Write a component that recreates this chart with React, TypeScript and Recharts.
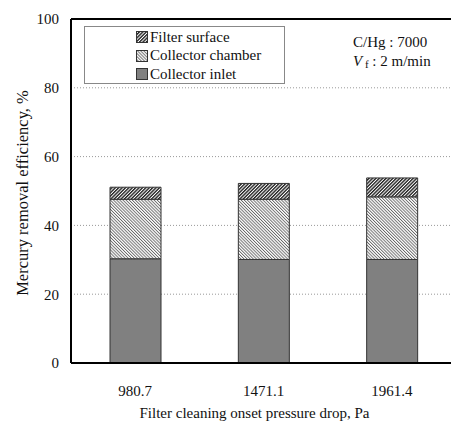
import React from 'react';
import { BarChart, Bar, XAxis, YAxis, CartesianGrid, ReferenceLine } from 'recharts';

const categories = ['980.7', '1471.1', '1961.4'];
const collectorInlet = [30.3, 30.1, 30.1];
const collectorChamber = [17.3, 17.5, 18.2];
const filterSurface = [3.5, 4.6, 5.5];
const yTicks = [0, 20, 40, 60, 80, 100];
const edgeTicks = [1, 2];

const data = categories.map((name, i) => ({
  name,
  inlet: collectorInlet[i],
  chamber: collectorChamber[i],
  surface: filterSurface[i],
}));

const FONT = 'Liberation Serif, DejaVu Serif, serif';

const LEGEND_ITEMS = [
  { label: 'Filter surface', fill: 'url(#hatchSurface)' },
  { label: 'Collector chamber', fill: 'url(#hatchChamber)' },
  { label: 'Collector inlet', fill: '#808080' },
];

function LegendBox() {
  return (
    <div
      style={{
        position: 'absolute',
        left: 84,
        top: 26,
        width: 199,
        height: 55,
        border: '1px solid #888',
        background: '#fff',
        paddingTop: 1,
      }}
    >
      {LEGEND_ITEMS.map((it) => (
        <div key={it.label} style={{ display: 'flex', alignItems: 'center', height: 18.5, paddingLeft: 51 }}>
          <svg width={12} height={12} style={{ marginRight: 2 }}>
            <rect x={0.5} y={0.5} width={11} height={11} fill={it.fill} stroke="#333" />
          </svg>
          <span style={{ fontFamily: FONT, fontSize: 15, color: '#111', lineHeight: '15px' }}>{it.label}</span>
        </div>
      ))}
    </div>
  );
}

export default function App() {
  return (
    <div style={{ position: 'fixed', left: 0, top: 0, width: 451, height: 424, overflow: 'hidden', background: '#fff', fontFamily: FONT }}>
      <svg width={0} height={0} style={{ position: 'absolute' }}>
        <defs>
          <pattern id="hatchChamber" patternUnits="userSpaceOnUse" width={2.2} height={2.2} patternTransform="rotate(-45)">
            <rect width={2.2} height={2.2} fill="#fff" />
            <rect x={0} y={0} width={0.9} height={2.2} fill="#666" />
          </pattern>
          <pattern id="hatchSurface" patternUnits="userSpaceOnUse" width={2.4} height={2.4} patternTransform="rotate(45)">
            <rect width={2.4} height={2.4} fill="#fff" />
            <rect x={0} y={0} width={1.4} height={2.4} fill="#222" />
          </pattern>
        </defs>
      </svg>
      <BarChart
        width={470}
        height={424}
        data={data}
        margin={{ top: 19, right: 14, bottom: 0, left: 0 }}
        barCategoryGap={0}
        style={{ fontFamily: FONT }}
      >
        <CartesianGrid horizontal vertical={false} stroke="#999" strokeDasharray="1 2" />
        <XAxis
          dataKey="name"
          height={61}
          axisLine={{ stroke: '#000', strokeWidth: 2 }}
          tickLine={false}
          tickSize={0}
          tickMargin={22}
          tick={{ fontFamily: FONT, fontSize: 15, fill: '#111' }}
          label={{
            value: 'Filter cleaning onset pressure drop,  Pa',
            position: 'insideBottom',
            offset: 6,
            dx: -9,
            style: { fontFamily: FONT, fontSize: 15, fill: '#111', whiteSpace: 'pre' },
          }}
        />
        <XAxis
          xAxisId="edges"
          type="number"
          domain={[0, 3]}
          ticks={edgeTicks}
          mirror
          tick={false}
          tickSize={5}
          axisLine={false}
          tickLine={{ stroke: '#555' }}
        />
        <YAxis
          width={71}
          domain={[0, 100]}
          ticks={yTicks}
          axisLine={{ stroke: '#000', strokeWidth: 2 }}
          tickLine={false}
          tickSize={0}
          tickMargin={12}
          tick={{ fontFamily: FONT, fontSize: 15, fill: '#111' }}
          label={{
            value: 'Mercury removal efficiency,  %',
            angle: -90,
            position: 'insideLeft',
            offset: 22,
            dy: 2,
            style: { fontFamily: FONT, fontSize: 16.5, fill: '#111', textAnchor: 'middle', whiteSpace: 'pre' },
          }}
        />
        <YAxis
          yAxisId="inner"
          domain={[0, 100]}
          ticks={yTicks}
          mirror
          tick={false}
          tickSize={5}
          axisLine={false}
          tickLine={{ stroke: '#555' }}
        />
        <ReferenceLine y={100} stroke="#000" strokeWidth={2} />
        <Bar dataKey="inlet" name="Collector inlet" stackId="a" barSize={51} fill="#808080" stroke="#333" isAnimationActive={false} />
        <Bar dataKey="chamber" name="Collector chamber" stackId="a" barSize={51} fill="url(#hatchChamber)" stroke="#333" isAnimationActive={false} />
        <Bar dataKey="surface" name="Filter surface" stackId="a" barSize={51} fill="url(#hatchSurface)" stroke="#333" isAnimationActive={false} />
      </BarChart>
      <LegendBox />
      <div style={{ position: 'absolute', left: 353, top: 33, fontFamily: FONT, fontSize: 15, color: '#111', lineHeight: '19px' }}>
        <div>C/Hg : 7000</div>
        <div>
          <i>V</i>
          <sub style={{ fontSize: 11, verticalAlign: -2 }}> f</sub> : 2 m/min
        </div>
      </div>
    </div>
  );
}
